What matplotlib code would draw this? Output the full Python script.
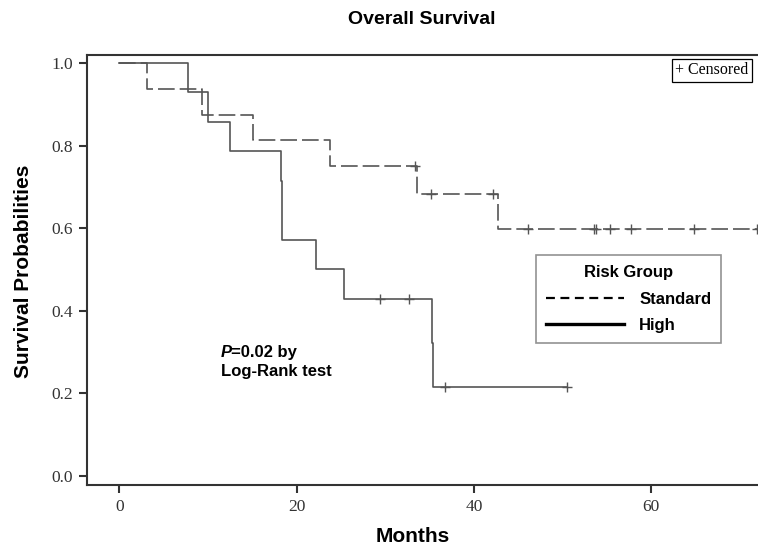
import numpy as np
import matplotlib.pyplot as plt
from matplotlib.lines import Line2D

# Kaplan-Meier steps (months, survival)
std_t = [0, 3.07, 9.35, 15.07, 23.8, 33.6, 42.7]
std_s = [1.0, 0.9375, 0.875, 0.8125, 0.75, 0.682, 0.597]
std_end = 71.9
std_cens_t = [33.3, 35.2, 42.1, 46.1, 53.6, 53.8, 55.4, 57.7, 64.8, 71.9]
std_cens_s = [0.75, 0.682, 0.682, 0.597, 0.597, 0.597, 0.597, 0.597, 0.597, 0.597]

high_t = [0, 7.77, 10.0, 12.5, 18.2, 18.3, 22.2, 25.3, 35.3, 35.4]
high_s = [1.0, 0.929, 0.857, 0.786, 0.714, 0.571, 0.5, 0.429, 0.321, 0.214]
high_end = 50.5
high_cens_t = [29.4, 32.7, 36.7, 50.5]
high_cens_s = [0.429, 0.429, 0.214, 0.214]

yticks = [0.0, 0.2, 0.4, 0.6, 0.8, 1.0]
xticks = [0, 20, 40, 60]

sans = 'Liberation Sans'
serif = 'Liberation Serif'
line_col = '#555555'

fig = plt.figure(figsize=(7.58, 5.51), dpi=100)
ax = fig.add_axes([86.7 / 758, 1 - 485 / 551, (758 - 86.7) / 758, (485 - 55) / 551])

ax.step(std_t + [std_end], std_s + [std_s[-1]], where='post', color=line_col,
        lw=1.2, dashes=(10, 3))
ax.step(high_t + [high_end], high_s + [high_s[-1]], where='post', color=line_col, lw=1.2)
ax.plot(std_cens_t, std_cens_s, '+', color=line_col, ms=6.5, mew=1.0)
ax.plot(high_cens_t, high_cens_s, '+', color=line_col, ms=6.5, mew=1.0)

ax.set_xlim(-3.70, 72.06)
ax.set_ylim(-0.0225, 1.0195)
ax.set_xticks(xticks)
ax.set_yticks(yticks)
ax.set_yticklabels(['%.1f' % v for v in yticks])
for lab in ax.get_xticklabels() + ax.get_yticklabels():
    lab.set_fontfamily(serif)
    lab.set_fontsize(12.5)
    lab.set_color('#333333')
ax.tick_params(direction='out', length=6, width=1.5, color='#333333', pad=4)
ax.spines['right'].set_visible(False)
for s in ['left', 'bottom', 'top']:
    ax.spines[s].set_linewidth(1.5)
    ax.spines[s].set_color('#333333')

fig.text(422 / 758, 1 - 19 / 551, 'Overall Survival', family=sans, weight='bold',
         fontsize=14, ha='center', va='center')
fig.text(413 / 758, 1 - 536 / 551, 'Months', family=sans, weight='bold',
         fontsize=15, ha='center', va='center')
fig.text(24 / 758, 1 - 271 / 551, 'Survival Probabilities', family=sans, weight='bold',
         fontsize=15, ha='center', va='center', rotation=90)

# p-value note
ax.text(11.45, 0.298, 'P', family=sans, weight='bold', style='italic', fontsize=12,
        va='center', ha='left')
ax.annotate('=0.02 by', xy=(11.45, 0.298), xytext=(7.6, 0), textcoords='offset points',
            family=sans, weight='bold', fontsize=12, va='center', ha='left')
ax.text(11.45, 0.252, 'Log-Rank test', family=sans, weight='bold', fontsize=12,
        va='center', ha='left')

# censored box
ax.text(0.986, 0.983, '+ Censored', transform=ax.transAxes, family=serif, fontsize=11.5,
        ha='right', va='top',
        bbox=dict(boxstyle='square,pad=0.2', fc='white', ec='black', lw=0.9))

handles = [Line2D([], [], color='black', lw=1.6, dashes=(4, 2.5)),
           Line2D([], [], color='black', lw=2.4)]
leg = ax.legend(handles, ['Standard', 'High'], title='Risk Group', loc='upper left',
                bbox_to_anchor=(0.669, 0.535), borderaxespad=0, frameon=True,
                fancybox=False, edgecolor='#777777', handlelength=4.7,
                handletextpad=0.9, borderpad=0.6, labelspacing=0.7,
                prop={'family': sans, 'weight': 'bold', 'size': 12},
                title_fontproperties={'family': sans, 'weight': 'bold', 'size': 12})
leg.get_frame().set_linewidth(1.2)

fig.savefig('out.png', dpi=100)
